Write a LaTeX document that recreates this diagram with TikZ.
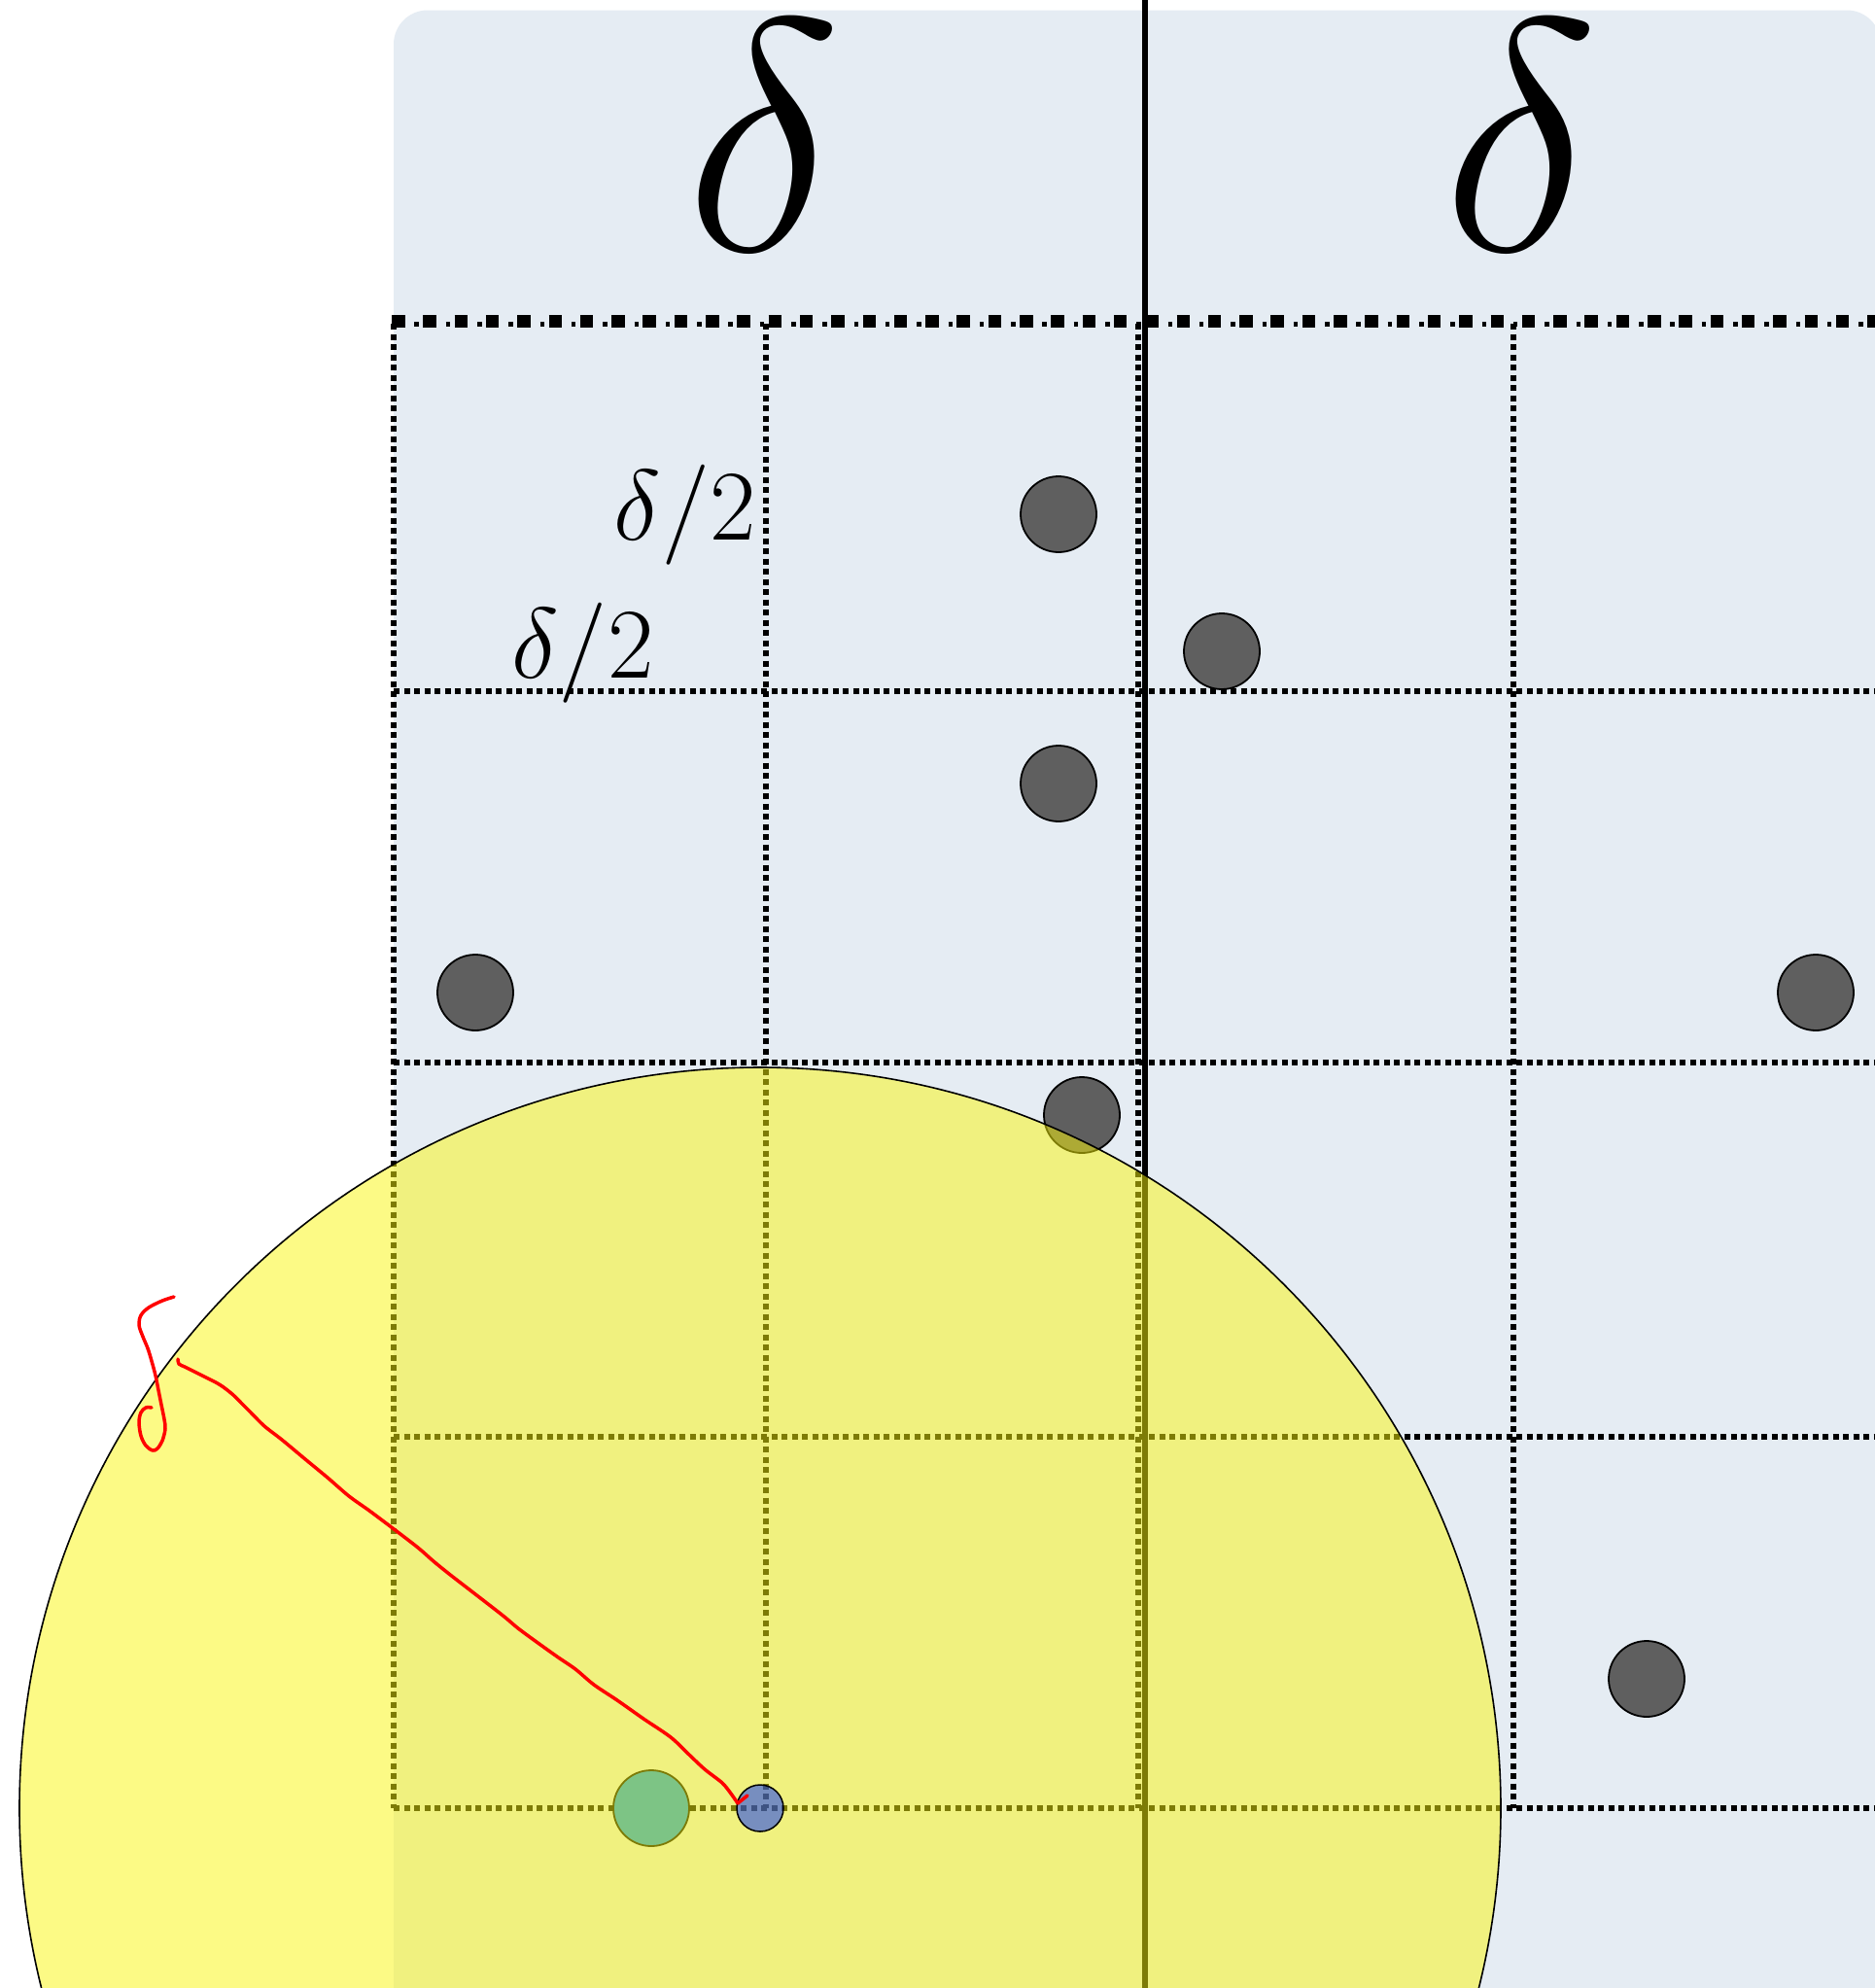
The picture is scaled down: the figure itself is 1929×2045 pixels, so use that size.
\RequirePackage{fix-cm}
\documentclass[tikz,border=0pt]{standalone}
\definecolor{bgblue}{RGB}{229,236,243}
\definecolor{dotgrey}{RGB}{95,95,95}
\definecolor{circyellow}{RGB}{251,246,13}
\definecolor{bluefill}{RGB}{0,45,255}
\definecolor{greenbase}{RGB}{0,146,255}
\begin{document}
\begin{tikzpicture}[x=1pt,y=-1pt,
  griddot/.style={line width=5.5pt, dash pattern=on 6pt off 4.5pt},
  greydot/.style={circle, minimum size=78pt, inner sep=0pt, fill=dotgrey, draw=black, line width=1.8pt},
  bigdelta/.style={anchor=base, inner sep=0pt, font=\fontsize{340}{400}\selectfont},
  halflabel/.style={inner sep=0pt, font=\fontsize{103}{120}\selectfont},
  redink/.style={draw=red, line width=3.5pt, line cap=round, line join=round}]
\clip (0,0) rectangle (1929,2045);
\fill[white] (0,0) rectangle (1929,2045);
% background panel
\fill[bgblue, rounded corners=35pt] (405,10.5) rectangle (1935,2200);
% top border (dash-dot)
\draw[line width=13pt, dash pattern=on 13.5pt off 18.8pt] (403,330.5) -- (1929,330.5);
\draw[line width=5pt, dash pattern=on 4.5pt off 27.8pt, dash phase=8.9pt] (403,333) -- (1929,333);
% grid
\foreach \x in {405,788,1171,1557} \draw[griddot] (\x,333) -- (\x,1860);
\foreach \y in {711,1093,1478,1860} \draw[griddot] (405,\y) -- (1929,\y);
% solid divider
\draw[line width=6pt] (1178,0) -- (1178,2045);
% labels
\node[bigdelta] (d1) at (786,257) {$\delta$};
\node[bigdelta] (d2) at (1565,257) {$\delta$};
\node[halflabel, anchor=base east] (h1) at (778,555) {$\delta/2$};
\node[halflabel, anchor=base west] (h2) at (526,697) {$\delta/2$};
% points
\node[greydot] (p1) at (1089,529) {};
\node[greydot] (p2) at (1257,670) {};
\node[greydot] (p3) at (1089,806) {};
\node[greydot] (p4) at (489,1021) {};
\node[greydot] (p5) at (1868,1021) {};
\node[greydot] (p6) at (1113,1147) {};
\node[greydot] (p7) at (1694,1727) {};
\node[circle, minimum size=78pt, inner sep=0pt, fill=greenbase, draw=black, line width=1.8pt] (green) at (670,1860) {};
% neighbourhood disc
\node[circle, minimum size=1524pt, inner sep=0pt, fill=circyellow, fill opacity=0.5, draw=black, line width=1.6pt] (disc) at (782,1860) {};
\node[circle, minimum size=48pt, inner sep=0pt, fill=bluefill, fill opacity=0.5, draw=black, line width=1.5pt] (blue) at (782,1860) {};
% red annotations
\draw[redink] plot[smooth, tension=0.55] coordinates {(179,1334) (167,1338) (153,1345) (145,1353) (143,1363) (147,1375) (152,1387) (156,1400) (160,1415) (163,1430) (166,1445) (169,1460) (170,1470) (167,1482) (162,1490) (157,1492) (150,1487) (145,1477) (143,1463) (145,1453) (150,1448) (156,1448)};
\coordinate (arrowstart) at (183,1398);
\coordinate (arrowtip) at (759,1855);
\draw[redink] plot[smooth, tension=0.5] coordinates {(183,1398) (184,1403) (190,1406) (200,1411) (210,1416) (222,1422) (230,1427) (240,1435) (250,1445) (258,1453) (272,1467) (290,1481) (314,1501) (337,1520) (359,1539) (380,1554) (404,1572) (430,1592) (446,1606) (462,1619) (484,1636) (506,1653) (520,1664) (533,1675) (552,1689) (573,1704) (592,1717) (611,1733) (635,1749) (662,1768) (690,1787) (709,1805) (725,1820) (743,1834) (752,1845) (759,1855)};
\draw[redink] (arrowtip) -- (769,1847);
\end{tikzpicture}
\end{document}
